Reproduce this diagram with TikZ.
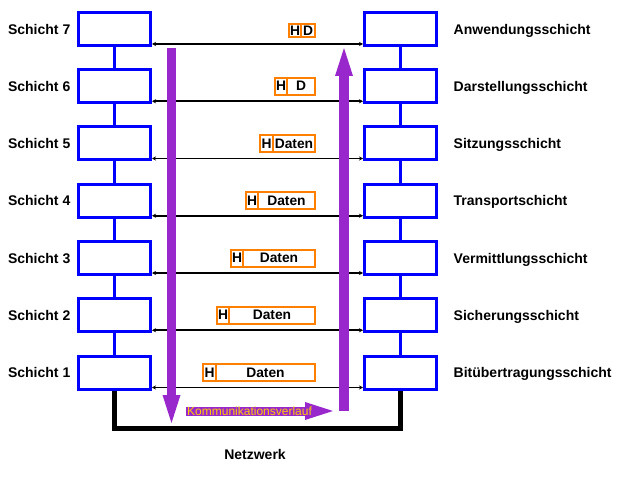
\documentclass[tikz,border=0pt]{standalone}
\usepackage{fontspec}
\setmainfont{Liberation Sans}
\usetikzlibrary{arrows.meta, positioning}
\definecolor{layerblue}{RGB}{0,0,255}
\definecolor{pktorange}{RGB}{255,128,0}
\definecolor{flowpurple}{RGB}{153,40,204}
\definecolor{flowtext}{RGB}{255,204,0}

\begin{document}
\begin{tikzpicture}[
    x=1pt, y=-1pt,
    node distance=24.25pt,
    layer/.style={rectangle, draw=layerblue, line width=3pt, fill=white, minimum width=72pt, minimum height=33pt, inner sep=0pt, outer sep=0pt},
    lbl/.style={inner sep=0pt, text depth=0pt, font=\fontsize{14}{16}\selectfont\bfseries},
    pkt/.style={rectangle, draw=pktorange, line width=2pt, fill=white, minimum height=17pt, inner sep=0pt, outer sep=0pt, font=\fontsize{13.8}{16}\selectfont\bfseries},
    komm/.style={inner sep=1pt, text=flowtext, font=\fontsize{12}{14}\selectfont},
    link/.style={layerblue, line width=3pt},
    msg/.style={{Stealth[length=4pt,width=4pt]}-{Stealth[length=4pt,width=4pt]}, line width=1.6pt, shorten <=1.5pt, shorten >=1.5pt},
    flow/.style={flowpurple, line width=9pt, -{Triangle[length=28pt,width=18pt,line width=0pt]}},
    net/.style={line width=4.5pt},
]
\useasboundingbox (0,0) rectangle (620,478);

% Left stack
\node[layer] (L7) at (114.5,29) {};
\node[layer, below=of L7] (L6) {};
\node[layer, below=of L6] (L5) {};
\node[layer, below=of L5] (L4) {};
\node[layer, below=of L4] (L3) {};
\node[layer, below=of L3] (L2) {};
\node[layer, below=of L2] (L1) {};

% Right stack
\node[layer, right=214pt of L7] (R7) {};
\node[layer, below=of R7] (R6) {};
\node[layer, below=of R6] (R5) {};
\node[layer, below=of R5] (R4) {};
\node[layer, below=of R4] (R3) {};
\node[layer, below=of R3] (R2) {};
\node[layer, below=of R2] (R1) {};

% Layer names
\node[lbl, left=8pt of L7] (s7) {Schicht 7};
\node[lbl, left=8pt of L6] (s6) {Schicht 6};
\node[lbl, left=8pt of L5] (s5) {Schicht 5};
\node[lbl, left=8pt of L4] (s4) {Schicht 4};
\node[lbl, left=8pt of L3] (s3) {Schicht 3};
\node[lbl, left=8pt of L2] (s2) {Schicht 2};
\node[lbl, left=8pt of L1] (s1) {Schicht 1};
\node[lbl, right=17pt of R7] (n7) {Anwendungsschicht};
\node[lbl, right=17pt of R6] (n6) {Darstellungsschicht};
\node[lbl, right=17pt of R5] (n5) {Sitzungsschicht};
\node[lbl, right=17pt of R4] (n4) {Transportschicht};
\node[lbl, right=17pt of R3] (n3) {Vermittlungsschicht};
\node[lbl, right=17pt of R2] (n2) {Sicherungsschicht};
\node[lbl, right=17pt of R1] (n1) {Bitübertragungsschicht};

% Stack links
\draw[link] (L7) -- (L6);
\draw[link] (L6) -- (L5);
\draw[link] (L5) -- (L4);
\draw[link] (L4) -- (L3);
\draw[link] (L3) -- (L2);
\draw[link] (L2) -- (L1);
\draw[link] (R7) -- (R6);
\draw[link] (R6) -- (R5);
\draw[link] (R5) -- (R4);
\draw[link] (R4) -- (R3);
\draw[link] (R3) -- (R2);
\draw[link] (R2) -- (R1);

% Peer protocols
\draw[msg] ([yshift=-15pt]L7.east) -- ([yshift=-15pt]R7.west);
\draw[msg] ([yshift=-15pt]L6.east) -- ([yshift=-15pt]R6.west);
\draw[msg] ([yshift=-15pt]L5.east) -- ([yshift=-15pt]R5.west);
\draw[msg] ([yshift=-15pt]L4.east) -- ([yshift=-15pt]R4.west);
\draw[msg] ([yshift=-15pt]L3.east) -- ([yshift=-15pt]R3.west);
\draw[msg] ([yshift=-15pt]L2.east) -- ([yshift=-15pt]R2.west);
\draw[msg] ([yshift=-15pt]L1.east) -- ([yshift=-15pt]R1.west);

% Packets
\node[pkt, minimum width=14pt, minimum height=13pt, yshift=-2pt, left=49.5pt of R7] (d7) {D};
\node[pkt, minimum width=12pt, minimum height=13pt, left=0pt of d7] (h7) {H};
\node[pkt, minimum width=28pt, left=49.5pt of R6] (d6) {D};
\node[pkt, minimum width=12pt, left=0pt of d6] (h6) {H};
\node[pkt, minimum width=42pt, left=49.5pt of R5] (d5) {Daten};
\node[pkt, minimum width=13pt, left=0pt of d5] (h5) {H};
\node[pkt, minimum width=57pt, left=49.5pt of R4] (d4) {Daten};
\node[pkt, minimum width=12pt, left=0pt of d4] (h4) {H};
\node[pkt, minimum width=72pt, left=49.5pt of R3] (d3) {Daten};
\node[pkt, minimum width=12pt, left=0pt of d3] (h3) {H};
\node[pkt, minimum width=86pt, left=49.5pt of R2] (d2) {Daten};
\node[pkt, minimum width=12pt, left=0pt of d2] (h2) {H};
\node[pkt, minimum width=99pt, left=49.5pt of R1] (d1) {Daten};
\node[pkt, minimum width=13pt, left=0pt of d1] (h1) {H};

% Communication flow
\coordinate (dtop) at (171.5,48);
\coordinate (dbot) at (171.5,423);
\coordinate (ubot) at (344,411);
\coordinate (utop) at (344,48);
\coordinate (kstart) at (186,411);
\coordinate (kend) at (333,411);
\draw[flow] (dtop) -- (dbot);
\draw[flow, line width=10pt] (ubot) -- (utop);
\draw[flow] (kstart) -- (kend);
\node[komm, anchor=west] (komm) at (kstart) {Kommunikationsverlauf};

% Network
\draw[net] ([yshift=-1.5pt]L1.south) -- ++(0,38) -| ([yshift=-1.5pt]R1.south);
\node[lbl] (netz) at (255,454) {Netzwerk};

\end{tikzpicture}
\end{document}
